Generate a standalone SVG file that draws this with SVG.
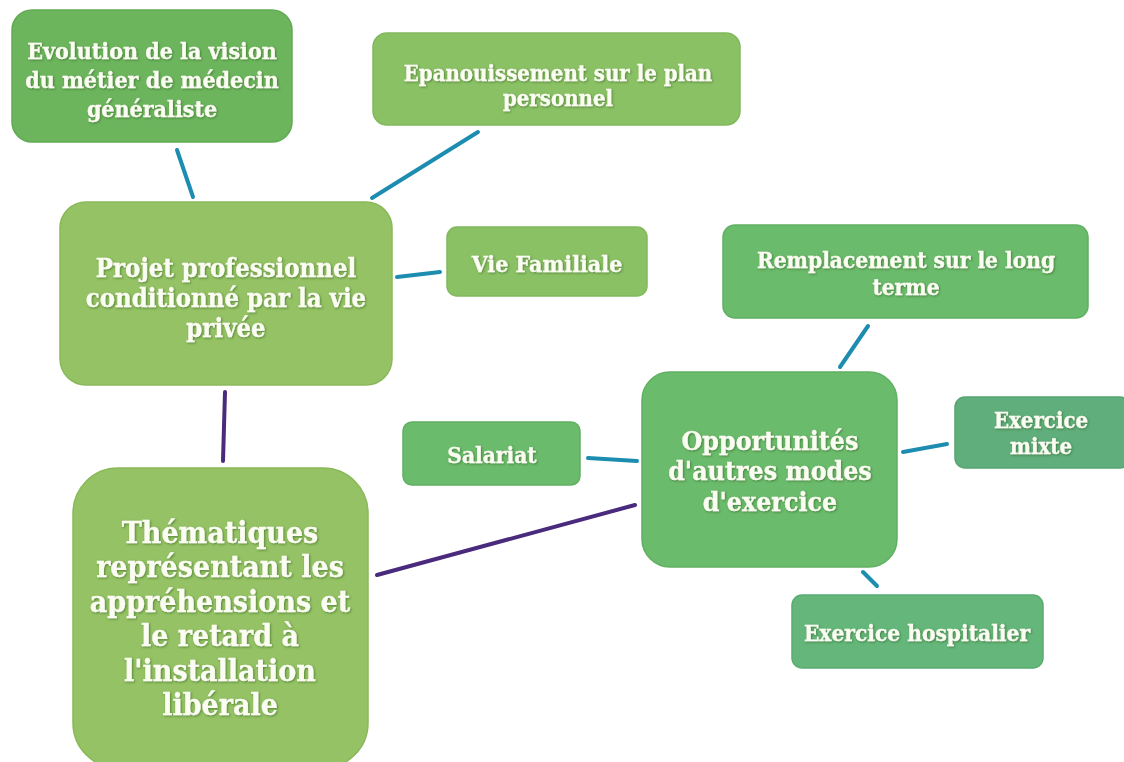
<svg xmlns="http://www.w3.org/2000/svg" width="1124" height="762" viewBox="0 0 1124 762">
<defs>
<filter id="ts" x="-10%" y="-10%" width="120%" height="130%"><feDropShadow dx="1" dy="1" stdDeviation="0.8" flood-color="#2d5a1e" flood-opacity="0.6"/></filter>
<style>
text{font-family:"DejaVu Serif Condensed","DejaVu Serif",serif;font-weight:bold;fill:#fbfdf2;stroke:#fbfdf2;stroke-width:0.3;text-anchor:middle;dominant-baseline:central;filter:url(#ts)}
.g1{fill:#6cb55d;stroke:#62aa55;stroke-width:1.5}
.g2{fill:#8bc165;stroke:#80b85c;stroke-width:1.5}
.g3{fill:#94c264;stroke:#8ab95b;stroke-width:1.5}
.g4{fill:#6bbb6c;stroke:#60b062;stroke-width:1.5}
.g5{fill:#5fae7b;stroke:#56a472;stroke-width:1.5}
.g6{fill:#64b67a;stroke:#5aac70;stroke-width:1.5}
.cb{stroke:#1c8db0;stroke-width:4;fill:none;stroke-linecap:round}
.cp{stroke:#4a2a7c;stroke-width:4;fill:none;stroke-linecap:round}
</style>
</defs>
<rect width="1124" height="762" fill="#ffffff"/>
<g id="connectors">
<line class="cb" x1="177" y1="150" x2="193" y2="197"/>
<line class="cb" x1="478" y1="132" x2="372" y2="198"/>
<line class="cb" x1="397" y1="277" x2="440" y2="272"/>
<line class="cb" x1="868" y1="326" x2="840" y2="367"/>
<line class="cb" x1="903" y1="452" x2="947" y2="444"/>
<line class="cb" x1="863" y1="572" x2="877" y2="586"/>
<line class="cb" x1="588" y1="458" x2="637" y2="461"/>
<line class="cp" x1="225" y1="392" x2="223" y2="461"/>
<line class="cp" x1="377" y1="575" x2="635" y2="505"/>
</g>
<g id="n-evolution">
<rect class="g1" x="12" y="10" width="280" height="132" rx="20"/>
<text x="152" y="50" font-size="23">Evolution de la vision</text>
<text x="152" y="79" font-size="23">du métier de médecin</text>
<text x="152" y="108" font-size="23">généraliste</text>
</g>
<g id="n-epanouissement">
<rect class="g2" x="373" y="33" width="367" height="92" rx="14"/>
<text x="558" y="73" font-size="22">Epanouissement sur le plan</text>
<text x="558" y="98" font-size="22">personnel</text>
</g>
<g id="n-vie">
<rect class="g2" x="447" y="227" width="200" height="69" rx="10"/>
<text x="547" y="263" font-size="23">Vie Familiale</text>
</g>
<g id="n-projet">
<rect class="g3" x="60" y="202" width="332" height="183" rx="26"/>
<text x="226" y="268" font-size="25.5">Projet professionnel</text>
<text x="226" y="298" font-size="25.5">conditionné par la vie</text>
<text x="226" y="328" font-size="25.5">privée</text>
</g>
<g id="n-thematiques">
<rect class="g3" x="73" y="468" width="295" height="300" rx="45"/>
<text x="220" y="532" font-size="30">Thématiques</text>
<text x="220" y="566" font-size="30">représentant les</text>
<text x="220" y="601" font-size="30">appréhensions et</text>
<text x="220" y="635" font-size="30">le retard à</text>
<text x="220" y="670" font-size="30">l'installation</text>
<text x="220" y="704" font-size="30">libérale</text>
</g>
<g id="n-salariat">
<rect class="g4" x="403" y="422" width="177" height="63" rx="9"/>
<text x="492" y="455" font-size="22.5">Salariat</text>
</g>
<g id="n-opportunites">
<rect class="g4" x="642" y="372" width="255" height="195" rx="28"/>
<text x="770" y="440" font-size="26.5">Opportunités</text>
<text x="770" y="470" font-size="26.5">d'autres modes</text>
<text x="770" y="501" font-size="26.5">d'exercice</text>
</g>
<g id="n-remplacement">
<rect class="g4" x="723" y="225" width="365" height="93" rx="12"/>
<text x="906" y="260" font-size="22.5">Remplacement sur le long</text>
<text x="906" y="287" font-size="22.5">terme</text>
</g>
<g id="n-mixte">
<rect class="g5" x="955" y="397" width="175" height="71" rx="10"/>
<text x="1041" y="420" font-size="22">Exercice</text>
<text x="1041" y="446" font-size="22">mixte</text>
</g>
<g id="n-hospitalier">
<rect class="g6" x="792" y="595" width="251" height="73" rx="10"/>
<text x="917" y="633" font-size="22.5">Exercice hospitalier</text>
</g>
</svg>
